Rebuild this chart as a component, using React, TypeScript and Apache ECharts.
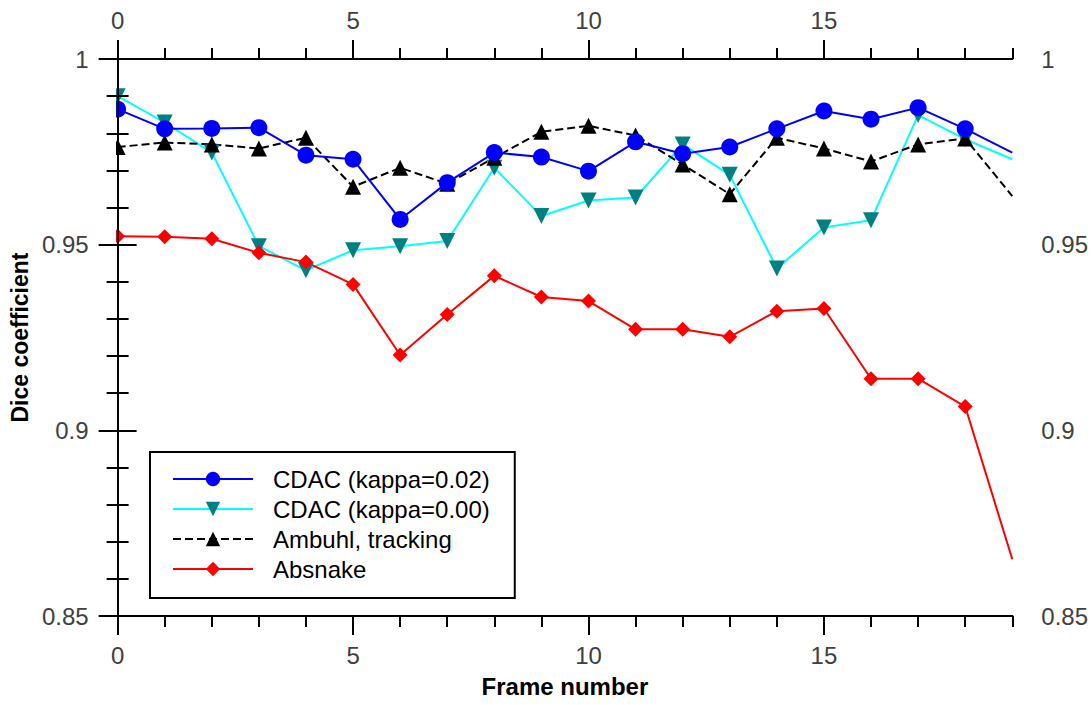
import React, { useEffect, useRef } from "react";
import * as echarts from "echarts";

const frames = [0, 1, 2, 3, 4, 5, 6, 7, 8, 9, 10, 11, 12, 13, 14, 15, 16, 17, 18, 19];
const cdac002 = [0.9865, 0.9812, 0.9813, 0.9815, 0.9741, 0.9730, 0.9568, 0.9667, 0.9748, 0.9736, 0.9698, 0.9777, 0.9745, 0.9763, 0.9812, 0.9860, 0.9838, 0.9869, 0.9812, 0.9748];
const cdac000 = [0.9900, 0.9829, 0.9748, 0.9496, 0.9431, 0.9485, 0.9496, 0.9510, 0.9707, 0.9577, 0.9619, 0.9627, 0.9770, 0.9688, 0.9436, 0.9546, 0.9566, 0.9849, 0.9784, 0.9730];
const ambuhl = [0.9763, 0.9775, 0.9770, 0.9759, 0.9788, 0.9656, 0.9707, 0.9664, 0.9734, 0.9804, 0.9820, 0.9794, 0.9716, 0.9636, 0.9788, 0.9759, 0.9724, 0.9770, 0.9786, 0.9631];
const absnake = [0.9523, 0.9521, 0.9516, 0.9478, 0.9453, 0.9393, 0.9203, 0.9312, 0.9416, 0.9359, 0.9348, 0.9272, 0.9272, 0.9252, 0.9321, 0.9328, 0.9139, 0.9139, 0.9064, 0.8653];
const seriesNames = ["CDAC (kappa=0.02)", "CDAC (kappa=0.00)", "Ambuhl, tracking", "Absnake"];
const xMajorTicks = [0, 5, 10, 15];

const FONT = "'Liberation Sans', Arial, Helvetica, sans-serif";

function buildData(vals: number[]) {
  const lastX = frames[frames.length - 1];
  return frames.map((f, i) =>
    f === lastX ? { value: [f, vals[i]], symbol: "none" } : { value: [f, vals[i]] }
  );
}

export default function App() {
  const ref = useRef<HTMLDivElement>(null);
  useEffect(() => {
    if (!ref.current) return;
    const chart = echarts.init(ref.current, undefined, { renderer: "svg" });
    const axisLine = { show: true, lineStyle: { color: "#000", width: 2 } };
    const label = { color: "#404040", fontSize: 24, fontFamily: FONT };
    const minorX = (pos: string) => ({
      type: "value",
      position: pos,
      min: 0,
      max: 19,
      interval: 1,
      z: 10,
      axisLine,
      axisTick: { show: true, length: 11, lineStyle: { color: "#000", width: 2 } },
      axisLabel: { show: false },
      splitLine: { show: false },
    });
    const majorX = (pos: string, named: boolean) => ({
      type: "value",
      position: pos,
      min: 0,
      max: 19,
      interval: 5,
      z: 10,
      axisLine,
      axisTick: { show: true, length: 19, customValues: xMajorTicks, lineStyle: { color: "#000", width: 2 } },
      axisLabel: { ...label, margin: 27, customValues: xMajorTicks },
      splitLine: { show: false },
      ...(named
        ? {
            name: "Frame number",
            nameLocation: "middle",
            nameGap: 58,
            nameTextStyle: { fontSize: 24, fontWeight: "bold", color: "#000", fontFamily: FONT },
          }
        : {}),
    });
    const yAx = (pos: string, named: boolean) => ({
      type: "value",
      position: pos,
      min: 0.85,
      max: 1,
      interval: 0.05,
      z: 10,
      axisLine,
      axisTick: { show: true, length: 19, lineStyle: { color: "#000", width: 2 } },
      minorTick: { show: true, splitNumber: 5, length: 11, lineStyle: { color: "#000", width: 2 } },
      axisLabel: { ...label, margin: 29 },
      splitLine: { show: false },
      minorSplitLine: { show: false },
      ...(named
        ? {
            name: "Dice coefficient",
            nameLocation: "middle",
            nameGap: 84,
            nameTextStyle: { fontSize: 23, fontWeight: "bold", color: "#000", fontFamily: FONT },
          }
        : {}),
    });

    chart.setOption({
      animation: false,
      backgroundColor: "#fff",
      textStyle: { fontFamily: FONT },
      grid: { left: 117, right: 78, top: 59, bottom: 89, containLabel: false },
      xAxis: [minorX("bottom"), majorX("bottom", true), minorX("top"), majorX("top", false)],
      yAxis: [yAx("left", true), yAx("right", false)],
      legend: {
        show: true,
        orient: "vertical",
        left: 150,
        top: 452,
        backgroundColor: "#fff",
        borderColor: "#000",
        borderWidth: 2,
        borderRadius: 0,
        padding: [14, 25, 16, 22],
        itemWidth: 80,
        itemHeight: 18,
        itemGap: 4,
        textStyle: { fontSize: 24, color: "#000", fontFamily: FONT, padding: [0, 0, 0, 15], lineHeight: 26 },
        data: seriesNames,
      },
      graphic: [
        { type: "rect", left: 0, top: 0, z: 5, shape: { width: 116, height: 705 }, style: { fill: "#fff" } },
        { type: "rect", left: 1014, top: 0, z: 5, shape: { width: 77, height: 705 }, style: { fill: "#fff" } },
      ],
      series: [
        {
          name: seriesNames[0],
          type: "line",
          data: buildData(cdac002),
          symbol: "circle",
          symbolSize: 17,
          itemStyle: { color: "#0000ff" },
          lineStyle: { color: "#0000ff", width: 2 },
          z: 3,
        },
        {
          name: seriesNames[1],
          type: "line",
          data: buildData(cdac000),
          symbol: "triangle",
          symbolRotate: 180,
          symbolSize: 16,
          itemStyle: { color: "#008080" },
          lineStyle: { color: "#00ffff", width: 2 },
          z: 2,
        },
        {
          name: seriesNames[2],
          type: "line",
          data: buildData(ambuhl),
          symbol: "triangle",
          symbolSize: 16,
          itemStyle: { color: "#000" },
          lineStyle: { color: "#000", width: 2, type: [8, 4] },
          z: 2,
        },
        {
          name: seriesNames[3],
          type: "line",
          data: buildData(absnake),
          symbol: "diamond",
          symbolSize: 15,
          itemStyle: { color: "#ff0000" },
          lineStyle: { color: "#ff0000", width: 2 },
          z: 2,
        },
      ],
    });
    return () => chart.dispose();
  }, []);
  return (
    <div
      ref={ref}
      style={{ position: "absolute", left: 0, top: 0, width: 1091, height: 705, background: "#fff" }}
    />
  );
}
